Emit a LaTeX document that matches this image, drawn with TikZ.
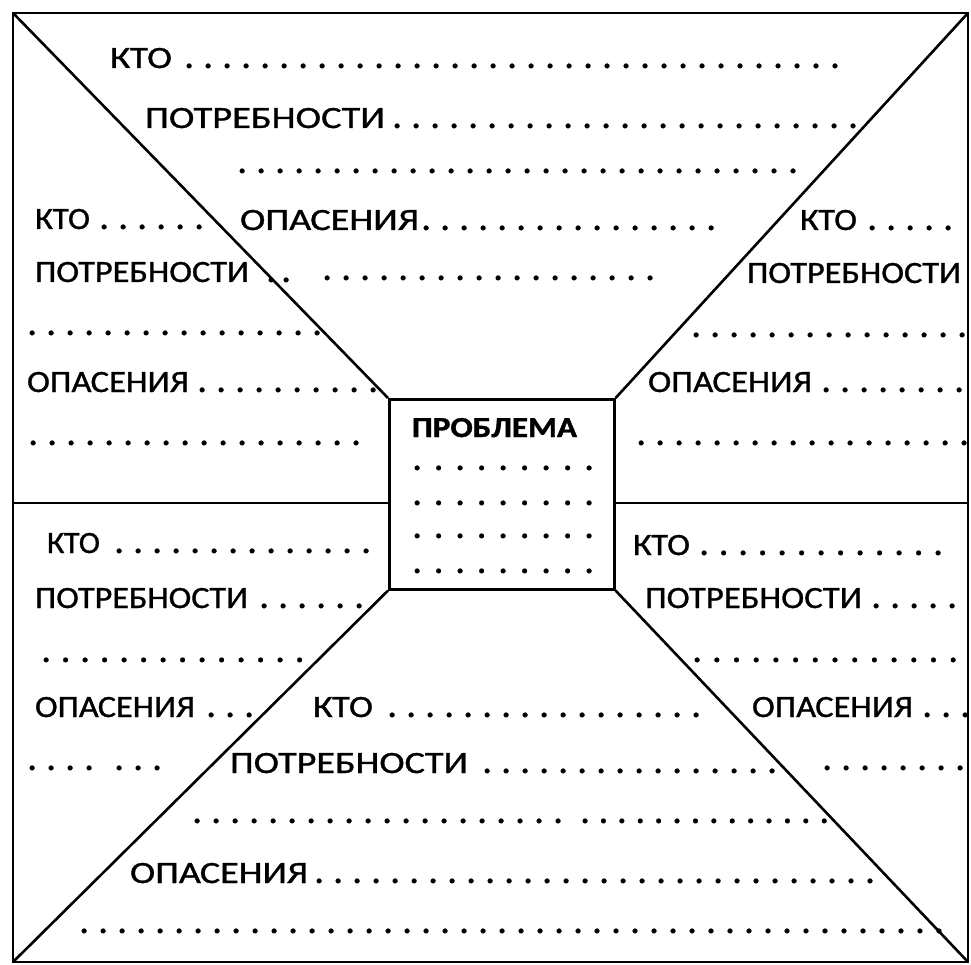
\documentclass[tikz,border=0pt]{standalone}
\usepackage{fontspec}
\setmainfont{Carlito}[FakeBold=0.9]
\newfontfamily\probfont{Carlito}[FakeBold=1.2]
\newcount\dotcnt
% n dots, each in a box of given pitch
\newcommand\dtsp[2]{{\bfseries\dotcnt=#1\relax\loop\ifnum\dotcnt>0 \hbox to #2{.\hss}\advance\dotcnt by -1 \repeat}}
\newcommand\dts[1]{\dtsp{#1}{19pt}}
% label: text, its width, width of the field before the first dot
\newcommand\lab[3]{\makebox[#3][l]{\resizebox{#2}{\height}{#1}}}
\begin{document}
\begin{tikzpicture}[x=1pt,y=-1pt,
  txt/.style={anchor=base west, inner sep=0pt, outer sep=0pt, font=\fontsize{31}{37}\selectfont},
  ln/.style={draw=black, line width=2.6pt}]
\useasboundingbox (0,0) rectangle (971,965);
\fill[white] (0,0) rectangle (971,965);
\coordinate (tl) at (13,13);
\coordinate (tr) at (968,13);
\coordinate (bl) at (13,962);
\coordinate (br) at (968,962);
\coordinate (ml) at (13,503);
\coordinate (mr) at (968,503);
\node[ln, minimum width=225pt, minimum height=190pt, inner sep=0pt, anchor=north west] (prob) at (388,398) {};
\draw[ln] (tl) rectangle (br);
\draw[ln] (tl) -- (prob.north west);
\draw[ln] (tr) -- (prob.north east);
\draw[ln] (bl) -- (prob.south west);
\draw[ln] (br) -- (prob.south east);
\draw[ln] (ml) -- (ml -| prob.west);
\draw[ln] (mr) -- (mr -| prob.east);

% top
\node[txt] (t1) at (110,68) {\lab{КТО}{62pt}{75pt}\dts{35}};
\node[txt] (t2) at (145,128) {\lab{ПОТРЕБНОСТИ}{240pt}{248pt}\dts{25}};
\node[txt] (t3) at (238,173) {\dts{30}};
\node[txt] (t4) at (240,230) {\lab{ОПАСЕНИЯ}{179pt}{182pt}\dts{16}};
\node[txt] (t5) at (323,280) {\dts{18}};
% left upper
\node[txt] (l1) at (35,229) {\lab{КТО}{55pt}{65pt}\dts{6}};
\node[txt] (l2) at (35,282) {\lab{ПОТРЕБНОСТИ}{214pt}{232pt}\dtsp{2}{15pt}};
\node[txt] (l3) at (28,335) {\dts{16}};
\node[txt] (l4) at (27,392) {\lab{ОПАСЕНИЯ}{162pt}{171pt}\dts{10}};
\node[txt] (l5) at (29,445) {\dts{18}};
% right upper
\node[txt] (r1) at (800,230) {\lab{КТО}{57pt}{68pt}\dts{5}};
\node[txt] (r2) at (747,283) {\lab{ПОТРЕБНОСТИ}{214pt}{214pt}};
\node[txt] (r3) at (692,337) {\dts{15}};
\node[txt] (r4) at (648,392) {\lab{ОПАСЕНИЯ}{164pt}{174pt}\dts{8}};
\node[txt] (r5) at (637,445) {\dts{18}};
% centre
\node[txt, font=\fontsize{29}{35}\selectfont\probfont\bfseries] (pt) at (412,437) {\resizebox{165pt}{\height}{ПРОБЛЕМА}};
\node[txt] (p1) at (413,470) {\dtsp{9}{21.5pt}};
\node[txt] (p2) at (413,505) {\dtsp{9}{21.5pt}};
\node[txt] (p3) at (413,538) {\dtsp{9}{21.5pt}};
\node[txt] (p4) at (413,573) {\dtsp{9}{21.5pt}};
% lower left
\node[txt] (ll1) at (47,553) {\lab{КТО}{53pt}{68pt}\dts{14}};
\node[txt] (ll2) at (35,608) {\lab{ПОТРЕБНОСТИ}{213pt}{225pt}\dts{6}};
\node[txt] (ll3) at (42,662) {\dtsp{14}{19.5pt}};
\node[txt] (ll4) at (35,717) {\lab{ОПАСЕНИЯ}{160pt}{172pt}\dts{3}};
\node[txt] (ll5) at (28,770) {\dts{4}\hspace{11pt}\dts{3}};
% bottom
\node[txt] (b1) at (313,717) {\lab{КТО}{60pt}{75pt}\dts{17}};
\node[txt] (b2) at (230,773) {\lab{ПОТРЕБНОСТИ}{238pt}{253pt}\dts{16}};
\node[txt] (b3) at (193,823) {\dts{20}\hspace{8pt}\dtsp{14}{18.4pt}};
\node[txt] (b4) at (130,883) {\lab{ОПАСЕНИЯ}{178pt}{185pt}\dts{30}};
\node[txt] (b5) at (80,933) {\dts{46}};
% lower right
\node[txt] (lr1) at (633,555) {\lab{КТО}{57pt}{67pt}\dtsp{13}{19.5pt}};
\node[txt] (lr2) at (645,608) {\lab{ПОТРЕБНОСТИ}{217pt}{227pt}\dts{5}};
\node[txt] (lr3) at (693,662) {\dtsp{14}{19.7pt}};
\node[txt] (lr4) at (752,717) {\lab{ОПАСЕНИЯ}{161pt}{171pt}\dts{3}};
\node[txt] (lr5) at (823,770) {\dts{8}};
\end{tikzpicture}
\end{document}
